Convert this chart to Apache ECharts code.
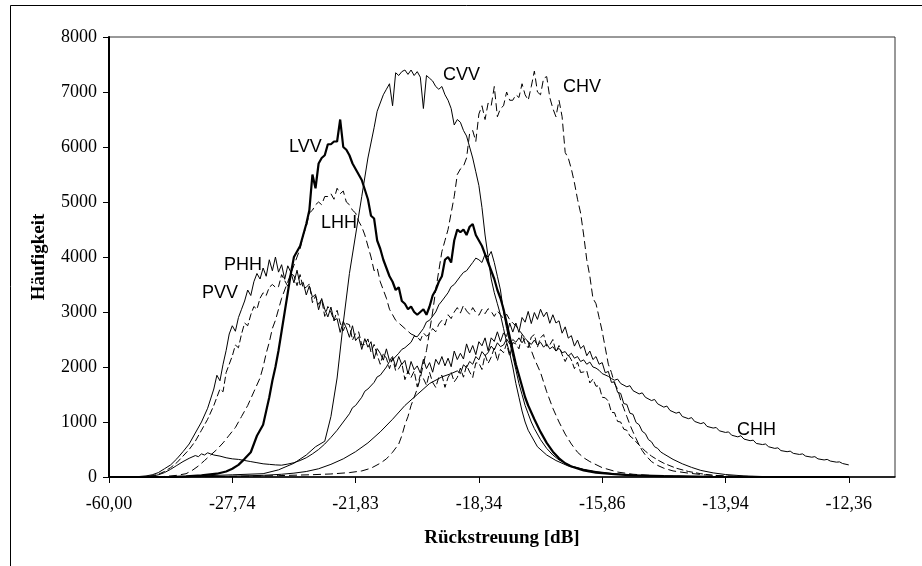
<!DOCTYPE html>
<html>
<head>
<meta charset="utf-8">
<script src="https://cdn.jsdelivr.net/npm/echarts@6/dist/echarts.min.js"></script>
<style>
  html, body { margin: 0; padding: 0; background: #fff; }
  #chart { width: 922px; height: 566px; }
</style>
</head>
<body>
<div id="chart"></div>
<script>
// Histogram bins (0..255) with backscatter tick labels every 40 bins
const tickBins = [0, 40, 80, 120, 160, 200, 240];
const xTickLabels = ['-60,00', '-27,74', '-21,83', '-18,34', '-15,86', '-13,94', '-12,36'];

// Frequency counts per bin: [bin, count]
const phh = [[0,0],[8,0],[10,10],[12,20],[14,40],[16,80],[18,150],[20,220],[22,330],[24,460],[26,600],[28,800],[30,1000],[32,1250],[34,1600],[35,1850],[36,1750],[37,2050],[38,2300],[39,2600],[40,2750],[41,2650],[42,2900],[43,3050],[44,3200],[45,3400],[46,3300],[47,3550],[48,3700],[49,3600],[50,3800],[51,3650],[52,3950],[53,3750],[54,4000],[55,3725],[56,3860],[57,3595],[58,3840],[59,3720],[60,3530],[61,3760],[62,3490],[63,3540],[64,3310],[65,3475],[66,3270],[67,3320],[68,3040],[69,3245],[70,3050],[71,2910],[72,3090],[73,2850],[74,2880],[75,2630],[76,2830],[77,2710],[78,2540],[79,2750],[80,2480],[81,2550],[82,2320],[83,2515],[84,2360],[85,2460],[86,2150],[87,2335],[88,2250],[89,2125],[90,2330],[91,2115],[92,2190],[93,2005],[94,2190],[95,2045],[96,2120],[97,1875],[98,2100],[99,1950],[100,2020],[101,1890],[102,2140],[103,1970],[104,2080],[105,1905],[106,2140],[107,2045],[108,2190],[109,2020],[110,2160],[111,2005],[112,2290],[113,2135],[114,2250],[115,2145],[116,2420],[117,2255],[118,2390],[119,2225],[120,2460],[121,2385],[122,2530],[123,2295],[124,2530],[125,2465],[126,2640],[127,2460],[128,2620],[129,2555],[130,2800],[131,2635],[132,2800],[133,2630],[134,2900],[135,2815],[136,3010],[137,2790],[138,2990],[139,2865],[140,3050],[141,2915],[142,3000],[143,2795],[144,2950],[145,2800],[146,2840],[147,2615],[148,2730],[149,2525],[150,2570],[151,2380],[152,2490],[153,2335],[154,2390],[155,2205],[156,2290],[157,2135],[158,2190],[159,2050],[160,2080],[161,1895],[162,1920],[163,1720],[164,1730],[165,1540],[166,1520],[167,1335],[168,1320],[169,1160],[170,1140],[171,990],[172,950],[173,830],[174,790],[175,680],[176,640],[177,550],[178,520],[179,455],[180,420],[183,320],[186,240],[189,175],[192,120],[196,75],[200,45],[206,20],[214,5],[240,0]];

const pvv = [[0,0],[10,0],[12,10],[14,25],[16,50],[18,100],[20,170],[22,260],[24,380],[26,500],[28,650],[30,850],[32,1050],[34,1300],[36,1600],[37,1550],[38,1900],[40,2200],[41,2400],[42,2350],[43,2600],[44,2800],[45,2750],[46,2950],[47,3100],[48,3050],[49,3250],[50,3350],[51,3300],[52,3450],[53,3500],[54,3450],[55,3460],[56,3680],[57,3570],[58,3470],[59,3700],[60,3660],[61,3480],[62,3680],[63,3430],[64,3450],[65,3510],[66,3170],[67,3290],[68,3140],[69,3230],[70,2920],[71,3100],[72,3000],[73,2840],[74,3030],[75,2800],[76,2660],[77,2790],[78,2770],[79,2490],[80,2610],[81,2640],[82,2400],[83,2410],[84,2510],[85,2270],[86,2410],[87,2220],[88,2050],[89,2240],[90,2160],[91,1970],[92,2160],[93,1930],[94,1970],[95,2070],[96,1770],[97,1925],[98,1810],[99,1925],[100,1640],[101,1855],[102,1790],[103,1670],[104,1900],[105,1720],[106,1630],[107,1815],[108,1850],[109,1630],[110,1810],[111,1905],[112,1730],[113,1810],[114,1980],[115,1815],[116,2030],[117,1910],[118,1810],[119,2075],[120,2070],[121,1955],[122,2220],[123,2065],[124,2180],[125,2345],[126,2110],[127,2320],[128,2260],[129,2425],[130,2190],[131,2445],[132,2420],[133,2330],[134,2590],[135,2425],[136,2350],[137,2545],[138,2590],[139,2360],[140,2530],[141,2590],[142,2380],[143,2400],[144,2500],[145,2275],[146,2390],[147,2225],[148,2100],[149,2220],[150,2130],[151,1970],[152,2090],[153,1900],[154,1910],[155,1930],[156,1710],[157,1780],[158,1650],[159,1660],[160,1450],[161,1440],[162,1380],[163,1175],[164,1170],[165,1010],[166,1000],[167,870],[168,850],[169,745],[170,700],[172,580],[174,470],[176,380],[178,310],[180,250],[184,160],[188,100],[192,60],[196,30],[200,15],[210,5],[240,0]];

const phv = [[0,0],[12,0],[14,15],[16,40],[18,80],[20,140],[22,210],[24,280],[26,340],[28,390],[29,370],[30,420],[31,400],[32,440],[33,420],[34,400],[36,380],[38,350],[40,330],[42,320],[44,300],[46,280],[48,260],[50,240],[52,230],[54,220],[56,215],[58,235],[60,260],[62,300],[64,350],[66,420],[68,500],[70,600],[72,720],[74,850],[76,1000],[78,1150],[79,1260],[80,1300],[82,1450],[83,1560],[84,1600],[86,1720],[87,1820],[88,1850],[90,2000],[91,2100],[92,2130],[94,2250],[95,2320],[96,2350],[98,2450],[99,2560],[100,2550],[102,2700],[103,2820],[104,2850],[106,3000],[107,3130],[108,3200],[110,3350],[111,3460],[112,3500],[114,3650],[115,3720],[116,3750],[118,3900],[119,3980],[120,3950],[121,3900],[122,4050],[123,4000],[124,4100],[125,3900],[126,3650],[127,3400],[128,3000],[129,2700],[130,2450],[131,2200],[132,1950],[133,1700],[134,1500],[135,1300],[136,1150],[137,1000],[138,880],[140,680],[142,520],[144,400],[146,310],[148,250],[150,200],[154,140],[158,100],[164,60],[170,35],[180,15],[195,5],[240,0]];

const lhh = [[0,0],[14,0],[18,10],[22,30],[25,60],[27,120],[29,200],[31,300],[33,400],[35,500],[37,620],[39,760],[41,900],[43,1100],[45,1300],[47,1550],[49,1800],[50,2000],[51,2250],[52,2450],[53,2700],[54,2850],[55,3050],[56,3250],[57,3400],[58,3550],[59,3700],[60,3850],[61,4000],[62,4150],[63,4400],[64,4550],[65,4800],[66,4850],[67,4950],[68,5000],[69,4950],[70,5100],[71,5100],[72,5150],[73,5050],[74,5250],[75,5150],[76,5200],[77,5000],[78,4950],[79,4850],[80,4800],[81,4650],[82,4550],[83,4400],[84,4200],[85,4000],[86,3750],[87,3800],[88,3550],[89,3400],[90,3250],[91,3050],[92,2950],[93,2850],[94,2800],[96,2700],[98,2600],[100,2550],[101,2480],[102,2620],[103,2560],[104,2600],[105,2700],[106,2640],[107,2780],[108,2850],[109,2760],[110,2950],[111,2880],[112,3000],[113,3080],[114,2980],[115,3120],[116,3020],[117,2960],[118,3080],[119,2990],[120,2940],[121,3050],[122,2970],[123,3060],[124,3010],[125,2920],[126,3020],[127,2950],[128,2880],[129,2960],[130,2860],[131,2800],[132,2750],[134,2600],[136,2450],[138,2150],[140,1900],[142,1550],[144,1250],[146,1000],[148,780],[150,600],[152,450],[154,350],[156,280],[160,170],[165,90],[170,50],[178,20],[190,5],[240,0]];

const lvv = [[0,0],[20,0],[25,10],[30,30],[35,60],[38,100],[40,150],[42,220],[44,330],[46,450],[47,600],[48,750],[50,950],[51,1200],[52,1450],[53,1750],[54,2000],[55,2300],[56,2650],[57,3000],[58,3350],[59,3700],[60,4000],[61,4100],[62,4200],[63,4400],[64,4600],[65,4850],[66,5500],[67,5250],[68,5700],[69,5800],[70,5850],[71,6050],[72,6050],[73,6100],[74,6100],[75,6500],[76,6000],[77,5950],[78,5850],[79,5700],[80,5600],[82,5400],[84,5050],[85,4750],[86,4700],[87,4300],[88,4150],[89,3950],[90,3800],[91,3650],[92,3550],[93,3400],[94,3450],[95,3200],[96,3150],[97,3050],[98,3100],[99,3000],[100,2950],[101,3000],[102,3050],[103,2950],[104,3100],[105,3300],[106,3400],[107,3550],[108,3650],[109,3950],[110,4000],[111,3900],[112,4300],[113,4500],[114,4450],[115,4500],[116,4400],[117,4550],[118,4600],[119,4400],[120,4300],[121,4200],[122,4050],[123,3900],[124,3750],[125,3600],[126,3400],[127,3250],[128,3050],[129,2800],[130,2550],[131,2300],[132,2050],[133,1850],[134,1650],[135,1450],[136,1300],[138,1050],[140,820],[142,620],[144,460],[146,340],[148,250],[150,190],[154,120],[158,80],[164,50],[170,30],[180,15],[195,5],[240,0]];

const cvv = [[0,0],[25,10],[40,40],[50,60],[55,130],[60,250],[64,400],[67,550],[70,650],[72,1100],[74,1800],[76,2800],[78,3700],[80,4400],[82,5100],[84,5800],[86,6350],[87,6650],[88,6800],[89,6950],[90,7050],[91,7150],[92,6750],[93,7350],[94,7300],[95,7370],[96,7400],[97,7320],[98,7400],[99,7300],[100,7370],[101,7270],[102,6700],[103,7300],[104,7250],[105,7200],[106,7100],[107,7050],[108,7100],[109,6950],[110,6850],[111,6700],[112,6400],[113,6500],[114,6450],[115,6300],[116,6200],[117,6000],[118,5800],[119,5550],[120,5300],[121,4900],[122,4400],[123,4000],[124,3600],[125,3350],[126,3150],[127,2950],[128,2700],[129,2450],[130,2250],[131,2000],[132,1700],[133,1450],[134,1200],[135,1000],[136,850],[137,750],[139,550],[142,400],[145,300],[149,200],[155,120],[160,70],[170,30],[180,15],[200,5],[240,0]];

const chv = [[0,0],[30,5],[45,15],[55,25],[65,40],[72,55],[78,80],[82,110],[85,160],[88,250],[90,330],[92,450],[94,600],[95,750],[96,950],[97,1100],[98,1300],[99,1450],[100,1600],[101,1800],[102,2050],[103,2300],[104,2650],[105,3000],[106,3400],[107,3750],[108,4100],[109,4300],[110,4500],[111,4800],[112,5100],[113,5500],[114,5600],[115,5650],[116,5800],[117,6250],[118,6300],[119,6100],[120,6600],[121,6750],[122,6500],[123,6800],[124,6750],[125,7100],[126,6550],[127,6700],[128,6750],[129,7000],[130,6850],[131,6850],[132,6950],[133,6900],[134,7150],[135,6950],[136,6850],[137,7100],[138,7380],[139,7000],[140,6950],[141,7250],[142,7280],[143,6900],[144,6700],[145,6550],[146,6850],[147,6550],[148,5900],[149,5800],[150,5600],[151,5350],[152,5050],[153,4800],[154,4400],[155,3950],[156,3650],[157,3250],[158,3150],[159,2900],[160,2650],[161,2350],[162,2050],[163,1900],[164,1700],[165,1600],[166,1400],[167,1250],[168,1100],[169,950],[170,820],[171,700],[172,580],[173,480],[174,400],[176,280],[178,210],[180,160],[183,110],[188,70],[193,40],[200,20],[210,8],[240,0]];

const chh = [[0,0],[20,0],[30,5],[40,15],[50,30],[56,50],[60,70],[64,100],[68,150],[72,230],[76,330],[80,460],[84,620],[88,820],[92,1050],[96,1300],[100,1500],[104,1700],[108,1820],[111,1880],[113,1930],[114,1880],[115,2040],[116,1990],[117,2100],[118,2050],[119,2190],[120,2130],[121,2280],[122,2210],[123,2260],[124,2380],[125,2310],[126,2440],[127,2370],[128,2400],[129,2510],[130,2420],[131,2500],[132,2450],[133,2530],[134,2440],[135,2520],[136,2460],[137,2410],[138,2490],[139,2400],[140,2450],[141,2360],[142,2420],[143,2330],[144,2370],[145,2290],[146,2340],[147,2260],[148,2280],[149,2200],[150,2250],[151,2160],[152,2190],[153,2100],[154,2130],[155,2050],[156,2090],[157,2000],[158,1980],[159,1940],[160,1880],[162,1830],[163,1790],[164,1760],[165,1780],[166,1700],[168,1640],[169,1660],[170,1570],[172,1510],[173,1530],[174,1450],[176,1390],[177,1410],[178,1330],[180,1270],[181,1290],[182,1210],[184,1160],[185,1180],[186,1100],[188,1060],[189,1080],[190,1010],[192,970],[193,990],[194,920],[196,890],[197,900],[198,840],[200,810],[201,820],[202,760],[204,730],[205,750],[206,690],[208,660],[209,670],[210,610],[212,590],[213,600],[214,550],[216,520],[217,530],[218,480],[220,460],[221,470],[222,430],[224,410],[225,420],[226,380],[228,360],[229,370],[230,330],[232,310],[233,320],[234,290],[236,270],[237,275],[238,245],[240,220]];

// Curve name labels drawn next to the lines
const curveLabels = [
  { text: 'CVV', x: 443, y: 75 },
  { text: 'CHV', x: 563, y: 87 },
  { text: 'LVV', x: 289, y: 147 },
  { text: 'LHH', x: 321, y: 223 },
  { text: 'PHH', x: 224, y: 265 },
  { text: 'PVV', x: 202, y: 293 },
  { text: 'CHH', x: 737, y: 430 }
];

const serif = '"Liberation Serif", "Times New Roman", serif';
const sans = '"Liberation Sans", Arial, sans-serif';

function lineSeries(name, data, width, dash) {
  return {
    name: name,
    type: 'line',
    data: data,
    showSymbol: false,
    symbol: 'none',
    silent: true,
    lineStyle: { color: '#000', width: width, type: dash || 'solid' },
    z: width > 1.5 ? 5 : 3
  };
}

const chart = echarts.init(document.getElementById('chart'), null, { renderer: 'canvas' });

chart.setOption({
  animation: false,
  backgroundColor: '#fff',
  grid: {
    left: 109, right: 27, top: 37, bottom: 89,
    show: true, borderColor: '#333', borderWidth: 1,
    containLabel: false, outerBoundsMode: 'none'
  },
  xAxis: {
    type: 'value',
    min: 0, max: 255, interval: 40,
    name: 'Rückstreuung [dB]',
    nameLocation: 'middle',
    nameGap: 52,
    nameTextStyle: { fontFamily: serif, fontWeight: 'bold', fontSize: 19, color: '#000' },
    axisLine: { lineStyle: { color: '#000', width: 1.5 } },
    axisTick: { show: true, length: 6, customValues: tickBins, lineStyle: { color: '#000' } },
    axisLabel: {
      customValues: tickBins,
      margin: 18,
      fontFamily: serif, fontSize: 18, color: '#000',
      formatter: function (v) {
        const i = tickBins.indexOf(Math.round(v));
        return i >= 0 ? xTickLabels[i] : '';
      }
    },
    splitLine: { show: false }
  },
  yAxis: {
    type: 'value',
    min: 0, max: 8000, interval: 1000,
    name: 'Häufigkeit',
    nameLocation: 'middle',
    nameGap: 60,
    nameRotate: 90,
    nameTextStyle: { fontFamily: serif, fontWeight: 'bold', fontSize: 19, color: '#000' },
    axisLine: { show: true, lineStyle: { color: '#000', width: 2 } },
    axisTick: { show: true, length: 6, lineStyle: { color: '#000' } },
    axisLabel: {
      margin: 12, fontFamily: serif, fontSize: 18, color: '#000',
      formatter: function (v) { return String(v); }
    },
    splitLine: { show: false }
  },
  series: [
    lineSeries('PHH', phh, 1),
    lineSeries('PVV', pvv, 1, [7, 3]),
    lineSeries('PHV', phv, 1),
    lineSeries('LHH', lhh, 1, [8, 4]),
    lineSeries('LVV', lvv, 2.2),
    lineSeries('CVV', cvv, 1),
    lineSeries('CHV', chv, 1, [8, 4]),
    lineSeries('CHH', chh, 1)
  ],
  graphic: [
    {
      type: 'rect',
      shape: { x: 10.5, y: 5.5, width: 940, height: 600 },
      style: { fill: null, stroke: '#000', lineWidth: 1 },
      silent: true, z: 10
    }
  ].concat(curveLabels.map(function (l) {
    return {
      type: 'text',
      x: l.x, y: l.y,
      style: {
        text: l.text, fill: '#000',
        font: '18px ' + sans,
        verticalAlign: 'middle', align: 'left'
      },
      silent: true, z: 20
    };
  }))
});
</script>
</body>
</html>
